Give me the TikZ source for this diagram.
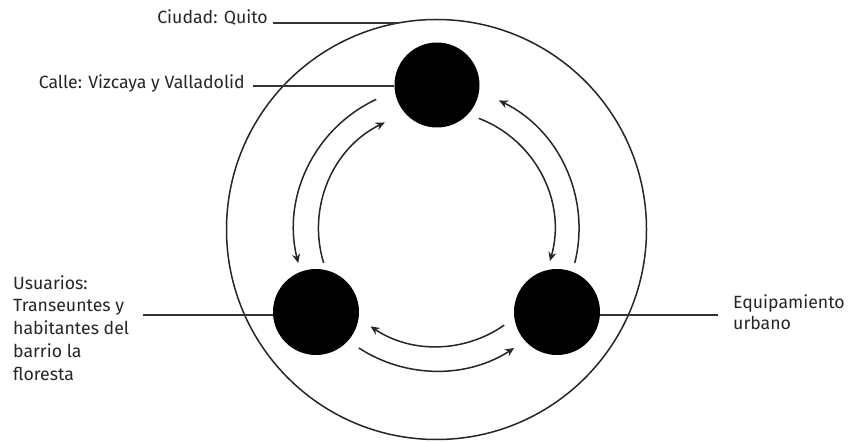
\documentclass[tikz,border=0pt]{standalone}
\usepackage{fontspec}
\setmainfont{Fira Sans}
\usetikzlibrary{arrows.meta}
\definecolor{txt}{HTML}{262626}
\definecolor{ln}{HTML}{333333}
\begin{document}
\begin{tikzpicture}[x=1pt,y=1pt,
  dot/.style={circle,fill=black,draw=none,minimum size=#1,inner sep=0pt},
  lbl/.style={text=txt,font=\fontsize{17.7}{22.75}\selectfont,inner sep=0pt},
  lead/.style={draw=ln,line width=1.5pt},
  flow/.style={draw=black!85,line width=1.5pt,-{Stealth[length=9pt,width=8pt]}}]
\useasboundingbox (0,0) rectangle (853,442);
\fill[white] (0,0) rectangle (853,442);
% big circle
\node[circle,draw=black!85,line width=1.5pt,minimum size=420pt,inner sep=0pt] (city) at (436.5,212.5) {};
\coordinate (A) at (436.5,213.5);
% small circles
\node[dot=85pt] (top) at (437,357) {};
\node[dot=86pt] (left) at (316,130) {};
\node[dot=86pt] (right) at (557,130) {};
% labels
\node[lbl,anchor=base east] (ciudad) at (268,418) {Ciudad: Quito};
\node[lbl,anchor=base east] (calle) at (245,353) {Calle: Vizcaya y Valladolid};
\node[lbl,anchor=base west,align=left] (usu) at (13,62) {Usuarios:\\Transeuntes y\\habitantes del\\barrio la\\floresta};
\node[lbl,anchor=base west,align=left,font=\fontsize{17.7}{21}\selectfont] (equi) at (733,113) {Equipamiento\\urbano};
% leader lines
\coordinate (c1) at (273,419);
\coordinate (c2) at (253,356);
\coordinate (c3) at (143,127);
\coordinate (c4) at (718,127);
\draw[lead] (c1) -- (398.5,419);
\draw[lead] (c2) -- (top.west |- c2);
\draw[lead] (c3) -- (left.west |- c3);
\draw[lead] (right.east |- c4) -- (c4);
% flows
\draw[flow] ([shift={(115:142.5)}]A) arc[start angle=115,end angle=194,radius=142.5];
\draw[flow] ([shift={(197:118)}]A) arc[start angle=197,end angle=116,radius=118];
\draw[flow] ([shift={(-14:142.5)}]A) arc[start angle=-14,end angle=64,radius=142.5];
\draw[flow] ([shift={(69:118)}]A) arc[start angle=69,end angle=-16,radius=118];
\draw[flow] ([shift={(-55:118)}]A) arc[start angle=-55,end angle=-124,radius=118];
\draw[flow] ([shift={(-123:142.5)}]A) arc[start angle=-123,end angle=-57,radius=142.5];
\end{tikzpicture}
\end{document}
